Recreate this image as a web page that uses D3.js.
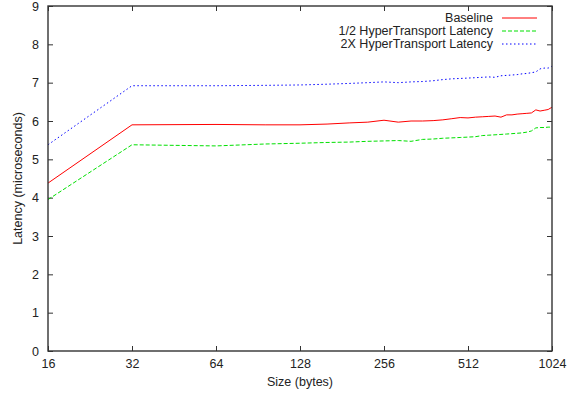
<!DOCTYPE html>
<html>
<head>
<meta charset="utf-8">
<script src="https://cdn.jsdelivr.net/npm/d3@7"></script>
<style>
  body { margin: 0; background: #fff; }
  text { font-family: "Liberation Sans", Arial, sans-serif; fill: #222; }
</style>
</head>
<body>
<div id="chart"></div>
<script>
// message sizes (bytes)
const sizes = [16, 32, 64, 96, 128, 160, 192, 224, 256, 288, 320, 352, 384, 416, 448, 480,
  512, 544, 576, 608, 640, 672, 704, 736, 768, 800, 832, 864, 896, 928, 960, 992, 1024];

// latency in microseconds
const baseline = [4.38, 5.90, 5.91, 5.90, 5.90, 5.92, 5.95, 5.97, 6.02, 5.97, 6.00, 6.00, 6.01, 6.03, 6.06, 6.09,
  6.08, 6.10, 6.11, 6.12, 6.13, 6.10, 6.16, 6.16, 6.18, 6.19, 6.20, 6.21, 6.29, 6.26, 6.28, 6.30, 6.36];
const halfHT = [3.95, 5.38, 5.35, 5.40, 5.42, 5.44, 5.45, 5.47, 5.48, 5.49, 5.47, 5.52, 5.53, 5.55, 5.56, 5.57,
  5.58, 5.59, 5.62, 5.63, 5.64, 5.65, 5.66, 5.67, 5.68, 5.69, 5.71, 5.74, 5.82, 5.83, 5.83, 5.84, 5.84];
const doubleHT = [5.38, 6.92, 6.92, 6.93, 6.94, 6.96, 6.98, 7.00, 7.02, 7.00, 7.02, 7.03, 7.05, 7.08, 7.10, 7.11,
  7.12, 7.13, 7.14, 7.15, 7.14, 7.18, 7.19, 7.20, 7.21, 7.23, 7.24, 7.26, 7.28, 7.36, 7.38, 7.38, 7.43];

const xTicks = [16, 32, 64, 128, 256, 512, 1024];
const yTicks = [0, 1, 2, 3, 4, 5, 6, 7, 8, 9];

const series = [
  {name: 'Baseline', values: baseline, color: '#ff0000', dash: null},
  {name: '1/2 HyperTransport Latency', values: halfHT, color: '#00e000', dash: '4,2'},
  {name: '2X HyperTransport Latency', values: doubleHT, color: '#0000ff', dash: '1.5,2.5'}
];

const width = 575, height = 394;
const margin = {top: 6, right: 23, bottom: 43, left: 48};

const svg = d3.select('#chart').append('svg')
  .attr('width', width)
  .attr('height', height);

// log2 x scale, linear y scale
const x = d3.scaleLog().base(2)
  .domain([16, 1024])
  .range([margin.left, width - margin.right]);
const y = d3.scaleLinear()
  .domain([0, 9])
  .range([height - margin.bottom, margin.top]);

const tickLen = 5;
const frameColor = '#333';

// bottom axis labels + inward ticks (bottom and top)
svg.append('g')
  .attr('transform', `translate(0,${height - margin.bottom})`)
  .call(d3.axisBottom(x).tickValues(xTicks).tickFormat(d3.format('d')).tickSize(-tickLen).tickPadding(8))
  .call(g => g.select('.domain').remove())
  .call(g => g.selectAll('line').attr('stroke', frameColor))
  .call(g => g.selectAll('text').style('font-size', '12.5px').attr('fill', '#222'));
svg.append('g')
  .attr('transform', `translate(0,${margin.top})`)
  .call(d3.axisTop(x).tickValues(xTicks).tickFormat('').tickSize(-tickLen))
  .call(g => g.select('.domain').remove())
  .call(g => g.selectAll('line').attr('stroke', frameColor));

// left axis labels + inward ticks (left and right)
svg.append('g')
  .attr('transform', `translate(${margin.left},0)`)
  .call(d3.axisLeft(y).tickValues(yTicks).tickSize(-tickLen).tickPadding(9))
  .call(g => g.select('.domain').remove())
  .call(g => g.selectAll('line').attr('stroke', frameColor))
  .call(g => g.selectAll('text').style('font-size', '12.5px').attr('fill', '#222'));
svg.append('g')
  .attr('transform', `translate(${width - margin.right},0)`)
  .call(d3.axisRight(y).tickValues(yTicks).tickFormat('').tickSize(-tickLen))
  .call(g => g.select('.domain').remove())
  .call(g => g.selectAll('line').attr('stroke', frameColor));

// series lines
const line = d3.line()
  .x((d, i) => x(sizes[i]))
  .y(d => y(d));

series.forEach(s => {
  svg.append('path')
    .datum(s.values)
    .attr('fill', 'none')
    .attr('stroke', s.color)
    .attr('stroke-width', 1)
    .attr('stroke-dasharray', s.dash)
    .attr('d', line);
});

// frame
svg.append('rect')
  .attr('x', margin.left)
  .attr('y', margin.top)
  .attr('width', width - margin.left - margin.right)
  .attr('height', height - margin.top - margin.bottom)
  .attr('fill', 'none')
  .attr('stroke', frameColor)
  .attr('stroke-width', 1.4);

// legend
const legend = svg.append('g');
series.forEach((s, i) => {
  const ly = 18 + i * 13;
  legend.append('text')
    .attr('x', 493)
    .attr('y', ly)
    .attr('dy', '0.35em')
    .attr('text-anchor', 'end')
    .style('font-size', '12.5px')
    .text(s.name);
  legend.append('line')
    .attr('x1', 502).attr('x2', 537)
    .attr('y1', ly).attr('y2', ly)
    .attr('stroke', s.color)
    .attr('stroke-width', 1)
    .attr('stroke-dasharray', s.dash);
});

// axis titles
svg.append('text')
  .attr('x', (margin.left + width - margin.right) / 2)
  .attr('y', 386)
  .attr('text-anchor', 'middle')
  .style('font-size', '12.5px')
  .text('Size (bytes)');
svg.append('text')
  .attr('transform', `translate(22,${(margin.top + height - margin.bottom) / 2}) rotate(-90)`)
  .attr('text-anchor', 'middle')
  .style('font-size', '12.5px')
  .text('Latency (microseconds)');
</script>
</body>
</html>
